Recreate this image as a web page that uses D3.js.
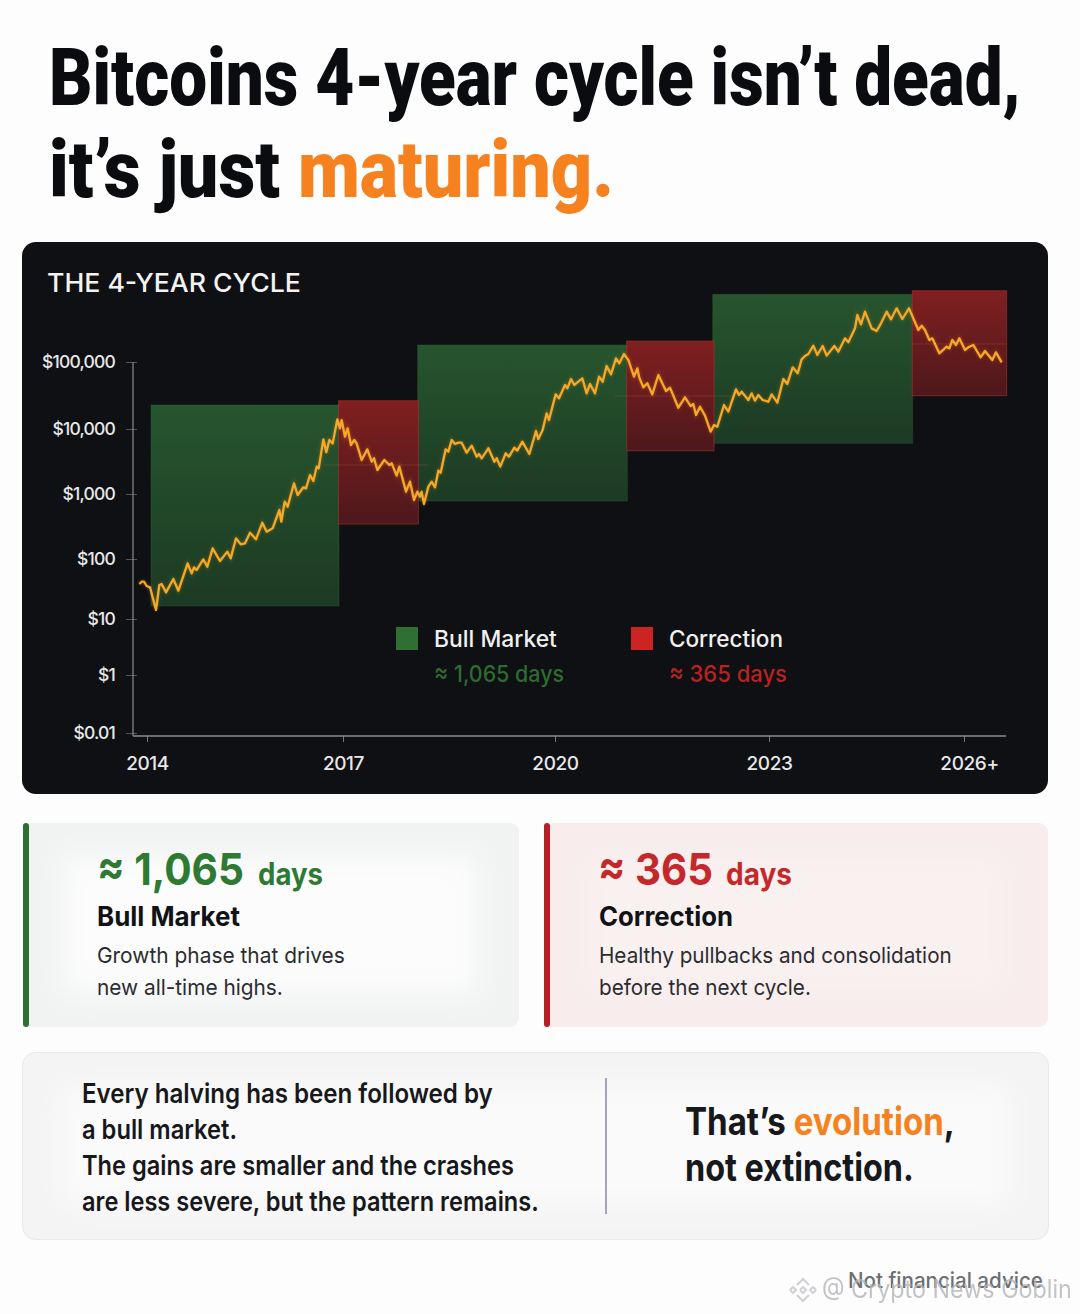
<!DOCTYPE html>
<html>
<head>
<meta charset="utf-8">
<script src="https://cdnjs.cloudflare.com/ajax/libs/d3/7.8.5/d3.min.js"></script>
<style>
html, body { margin: 0; padding: 0; background: #fdfdfd; }
svg { display: block; }
text { font-family: Inter, "Noto Sans", sans-serif; }
</style>
</head>
<body>
<div id="chart"></div>
<script>
// Values. Price is kept as log10(dollars).
var yearTicks = [2014, 2017, 2020, 2023, 2025.925];
var yearLabels = ["2014", "2017", "2020", "2023", "2026+"];
var logTicks = [5, 4, 3, 2, 1, 0, -2];
var logLabels = ["$100,000", "$10,000", "$1,000", "$100", "$10", "$1", "$0.01"];

var priceYears = [
  2013.883, 2013.918, 2013.954, 2013.995, 2014.046, 2014.097, 2014.138, 2014.189, 2014.224, 2014.291,
  2014.403, 2014.48, 2014.622, 2014.684, 2014.719, 2014.76, 2014.862, 2014.923, 2015.005, 2015.117,
  2015.23, 2015.281, 2015.362, 2015.434, 2015.5, 2015.577, 2015.668, 2015.765, 2015.832, 2015.923,
  2016.026, 2016.056, 2016.107, 2016.153, 2016.25, 2016.306, 2016.393, 2016.434, 2016.495, 2016.546,
  2016.597, 2016.628, 2016.699, 2016.745, 2016.791, 2016.842, 2016.913, 2016.954, 2016.98, 2017.028,
  2017.066, 2017.113, 2017.16, 2017.193, 2017.264, 2017.344, 2017.406, 2017.439, 2017.486, 2017.585,
  2017.656, 2017.689, 2017.759, 2017.797, 2017.892, 2017.948, 2018.005, 2018.052, 2018.09, 2018.113,
  2018.146, 2018.208, 2018.255, 2018.302, 2018.349, 2018.382, 2018.453, 2018.491, 2018.538, 2018.585,
  2018.632, 2018.679, 2018.75, 2018.821, 2018.892, 2018.925, 2018.962, 2019.057, 2019.142, 2019.175,
  2019.226, 2019.302, 2019.349, 2019.425, 2019.467, 2019.538, 2019.637, 2019.731, 2019.764, 2019.825,
  2019.882, 2019.915, 2020.009, 2020.056, 2020.14, 2020.173, 2020.224, 2020.271, 2020.327, 2020.383,
  2020.444, 2020.491, 2020.561, 2020.617, 2020.668, 2020.724, 2020.785, 2020.855, 2020.902, 2020.967,
  2021.028, 2021.107, 2021.154, 2021.182, 2021.238, 2021.294, 2021.364, 2021.449, 2021.556, 2021.612,
  2021.729, 2021.822, 2021.902, 2021.939, 2021.977, 2022.033, 2022.103, 2022.182, 2022.229, 2022.276,
  2022.369, 2022.43, 2022.537, 2022.579, 2022.617, 2022.71, 2022.757, 2022.804, 2022.85, 2022.911,
  2022.991, 2023.04, 2023.125, 2023.215, 2023.275, 2023.355, 2023.43, 2023.49, 2023.54, 2023.59,
  2023.665, 2023.725, 2023.805, 2023.865, 2023.98, 2024.04, 2024.14, 2024.19, 2024.29, 2024.325,
  2024.38, 2024.44, 2024.54, 2024.615, 2024.68, 2024.765, 2024.83, 2024.915, 2025.0, 2025.1,
  2025.24, 2025.29, 2025.34, 2025.405, 2025.45, 2025.555, 2025.665, 2025.705, 2025.75, 2025.805,
  2025.855, 2025.94, 2025.99, 2026.065, 2026.175, 2026.24, 2026.35, 2026.405, 2026.49
];
var priceLogs = [
  1.583, 1.622, 1.622, 1.55, 1.528, 1.317, 1.15, 1.567, 1.583, 1.444,
  1.667, 1.472, 1.928, 1.761, 1.861, 1.817, 1.994, 1.872, 2.164, 1.967,
  2.113, 2.01, 2.318, 2.226, 2.241, 2.405, 2.303, 2.559, 2.421, 2.472,
  2.754, 2.574, 2.882, 2.805, 3.164, 2.985, 3.103, 3.087, 3.292, 3.2,
  3.421, 3.395, 3.841, 3.641, 3.831, 3.779, 4.144, 4.01, 4.134, 3.882,
  4.01, 3.754, 3.831, 3.779, 3.523, 3.687, 3.497, 3.549, 3.369, 3.523,
  3.446, 3.472, 3.282, 3.421, 3.036, 3.19, 2.908, 3.036, 2.959, 3.036,
  2.846, 3.113, 3.19, 3.103, 3.359, 3.328, 3.687, 3.651, 3.831, 3.769,
  3.79, 3.79, 3.636, 3.744, 3.574, 3.615, 3.549, 3.703, 3.497, 3.549,
  3.421, 3.626, 3.574, 3.713, 3.667, 3.805, 3.615, 3.969, 3.846, 3.985,
  4.234, 4.134, 4.517, 4.458, 4.657, 4.607, 4.746, 4.657, 4.706, 4.756,
  4.532, 4.672, 4.532, 4.781, 4.706, 4.94, 4.816, 5.055, 4.98, 5.119,
  5.03, 4.781, 4.905, 4.766, 4.622, 4.682, 4.517, 4.806, 4.567, 4.617,
  4.318, 4.473, 4.343, 4.373, 4.209, 4.333, 4.199, 3.959, 4.06, 4.035,
  4.358, 4.259, 4.592, 4.507, 4.557, 4.433, 4.532, 4.423, 4.507, 4.433,
  4.408, 4.517, 4.393, 4.746, 4.672, 4.92, 4.831, 5.04, 5.09, 5.119,
  5.244, 5.104, 5.239, 5.095, 5.239, 5.154, 5.353, 5.294, 5.502, 5.701,
  5.562, 5.751, 5.502, 5.463, 5.577, 5.751, 5.637, 5.801, 5.642, 5.801,
  5.478, 5.542, 5.478, 5.328, 5.353, 5.129, 5.229, 5.204, 5.328, 5.254,
  5.353, 5.179, 5.219, 5.254, 5.07, 5.164, 5.03, 5.144, 4.995
];

// Market phases
var phaseKinds = ["bull", "bull", "bull", "correction", "correction", "correction"];
var phaseStarts = [2014.061, 2018.057, 2022.211, 2016.931, 2021.005, 2025.15];
var phaseEnds = [2016.939, 2021.014, 2025.155, 2018.066, 2022.229, 2026.565];
var phaseLows = [1.217, 2.892, 3.78, 2.538, 3.666, 4.497];
var phaseHighs = [4.358, 5.254, 6.01, 4.422, 5.313, 6.064];

// Faint level marks crossing the correction boxes
var levelStarts = [2016.7, 2020.84, 2025.15];
var levelEnds = [2018.2, 2022.48, 2026.56];
var levelLogs = [3.446, 4.493, 5.269];

var svg = d3.select("#chart").append("svg")
    .attr("width", 1080)
    .attr("height", 1314);

var defs = svg.append("defs");

function gradient(id, top, bottom) {
    var g = defs.append("linearGradient").attr("id", id)
        .attr("x1", 0).attr("y1", 0).attr("x2", 0).attr("y2", 1);
    g.append("stop").attr("offset", "0%").attr("stop-color", top);
    g.append("stop").attr("offset", "100%").attr("stop-color", bottom);
}
gradient("bullFill", "#27552e", "#1c3a24");
gradient("correctionFill", "#801f20", "#4d181c");

defs.append("filter").attr("id", "soft")
    .attr("x", "-20%").attr("y", "-20%").attr("width", "140%").attr("height", "140%")
    .append("feGaussianBlur").attr("stdDeviation", 14);
defs.append("filter").attr("id", "glow")
    .attr("x", "-5%").attr("y", "-5%").attr("width", "110%").attr("height", "110%")
    .append("feGaussianBlur").attr("stdDeviation", 1.5);

// Writes a line of text and squeezes it to the width it has in the picture.
// parts: [[string, colour], ...]
function fit(parent, x, y, width, size, weight, parts, family) {
    var t = parent.append("text")
        .attr("font-size", size)
        .attr("font-weight", weight);
    if (family) t.style("font-family", family);
    parts.forEach(function(p) {
        t.append("tspan").attr("fill", p[1]).text(p[0]);
    });
    var w = t.node().getComputedTextLength();
    t.attr("transform", "translate(" + x + "," + y + ") scale(" + (width / w) + ",1)");
    return t;
}

// Title
var ink = "#0b0c10", orange = "#f5821f";
fit(svg, 49, 105, 972, 80, 900, [["Bitcoins 4-year cycle isn\u2019t dead,", ink]], "Roboto");
fit(svg, 49, 197, 565, 80, 900, [["it\u2019s just ", ink], ["maturing.", orange]], "Roboto");

// Dark panel
svg.append("rect")
    .attr("x", 22).attr("y", 242).attr("width", 1026).attr("height", 552)
    .attr("rx", 14).attr("fill", "#0f1013");

fit(svg, 47, 292, 254, 26, 500, [["THE 4-YEAR CYCLE", "#f2f2f2"]]);

// Scales. Neither axis of the picture is evenly spaced, so both are piecewise.
var x = d3.scaleLinear()
    .domain([2014, 2017, 2020, 2023, 2026])
    .range([147, 343, 555, 769, 969]);
var y = d3.scaleLinear()
    .domain([-2, 0, 1, 2, 3, 4, 5, 6])
    .range([733, 675, 619, 559, 494, 429, 362, 295]);

// Phase boxes
var phases = phaseKinds.map(function(kind, i) {
    return { kind: kind, start: phaseStarts[i], end: phaseEnds[i], low: phaseLows[i], high: phaseHighs[i] };
});
svg.append("g").selectAll("rect")
    .data(phases)
    .enter().append("rect")
    .attr("x", function(d) { return x(d.start) })
    .attr("y", function(d) { return y(d.high) })
    .attr("width", function(d) { return x(d.end) - x(d.start) })
    .attr("height", function(d) { return y(d.low) - y(d.high) })
    .attr("fill", function(d) { return d.kind == "bull" ? "url(#bullFill)" : "url(#correctionFill)" })
    .attr("stroke", function(d) { return d.kind == "bull" ? "#2f6a38" : "#a8322c" })
    .attr("stroke-opacity", function(d) { return d.kind == "bull" ? 0.35 : 0.6 });

svg.append("g").selectAll("line")
    .data(levelLogs)
    .enter().append("line")
    .attr("x1", function(d, i) { return x(levelStarts[i]) })
    .attr("x2", function(d, i) { return x(levelEnds[i]) })
    .attr("y1", function(d) { return y(d) })
    .attr("y2", function(d) { return y(d) })
    .attr("stroke", "#c8683a")
    .attr("stroke-opacity", 0.25);

// Axes
var axisColor = "#8b8c90", labelColor = "#e8e8e8";
var yAxis = svg.append("g")
    .attr("transform", "translate(133,0)")
    .call(d3.axisLeft(y)
        .tickValues(logTicks)
        .tickFormat(function(d, i) { return logLabels[i] })
        .tickSize(0)
        .tickPadding(18));
yAxis.select(".domain").remove();
yAxis.selectAll(".tick line")
    .attr("x1", -7).attr("x2", 4)
    .attr("stroke", "#55565a");
yAxis.selectAll("text")
    .attr("fill", labelColor)
    .attr("font-size", 17.5)
    .attr("font-weight", 500)
    .attr("font-family", "Inter")
    .attr("letter-spacing", -0.8);

var xAxis = svg.append("g")
    .attr("transform", "translate(0,736)")
    .call(d3.axisBottom(x)
        .tickValues(yearTicks)
        .tickFormat(function(d, i) { return yearLabels[i] })
        .tickSize(6)
        .tickPadding(15));
xAxis.select(".domain").remove();
xAxis.selectAll(".tick line").attr("stroke", "#77787c");
xAxis.selectAll("text")
    .attr("fill", labelColor)
    .attr("font-size", 19)
    .attr("font-weight", 500)
    .attr("font-family", "Inter")
    .attr("letter-spacing", -0.4)
    .attr("dx", function(d, i) { return i == 4 ? 5 : 0 });

svg.append("line")
    .attr("x1", 133).attr("x2", 133)
    .attr("y1", y(5)).attr("y2", 736)
    .attr("stroke", axisColor).attr("stroke-width", 1.2);
svg.append("line")
    .attr("x1", 133).attr("x2", 1006)
    .attr("y1", 736).attr("y2", 736)
    .attr("stroke", axisColor).attr("stroke-width", 1.6);

// Price line
var points = priceYears.map(function(year, i) { return { year: year, log: priceLogs[i] } });
var line = d3.line()
    .x(function(d) { return x(d.year) })
    .y(function(d) { return y(d.log) });
svg.append("path")
    .attr("d", line(points))
    .attr("fill", "none")
    .attr("stroke", "#f59a1c")
    .attr("stroke-width", 3)
    .attr("stroke-opacity", 0.3)
    .attr("filter", "url(#glow)");
svg.append("path")
    .attr("d", line(points))
    .attr("fill", "none")
    .attr("stroke", "#f6a828")
    .attr("stroke-width", 2.3)
    .attr("stroke-linejoin", "round");

// Legend
var green = "#2e7a32", red = "#c62a27";
svg.append("rect").attr("x", 396).attr("y", 627).attr("width", 22).attr("height", 23).attr("fill", "#2e7032");
svg.append("rect").attr("x", 631).attr("y", 627).attr("width", 22).attr("height", 23).attr("fill", "#cc2422");
fit(svg, 434, 647, 123, 23, 500, [["Bull Market", "#f0f0f0"]]);
fit(svg, 669, 647, 114, 23, 500, [["Correction", "#f0f0f0"]]);
fit(svg, 434, 682, 130, 23, 500, [["\u2248 1,065 days", "#2d6c30"]]);
fit(svg, 669, 682, 118, 23, 500, [["\u2248 365 days", "#b92220"]]);

// Cards
function card(x0, width, base, centre, bar) {
    svg.append("rect")
        .attr("x", x0).attr("y", 823).attr("width", width).attr("height", 204)
        .attr("rx", 9).attr("fill", base);
    svg.append("rect")
        .attr("x", x0 + 40).attr("y", 855).attr("width", width - 80).attr("height", 140)
        .attr("fill", centre).attr("filter", "url(#soft)");
    svg.append("rect")
        .attr("x", x0).attr("y", 823).attr("width", 6).attr("height", 204)
        .attr("rx", 3).attr("fill", bar);
}
card(23, 496, "#f0f3f1", "#fbfcfb", "#2f6f34");
card(544, 504, "#f8eced", "#f9f0f0", "#b71f26");

var body = "#2b2c30";
fit(svg, 97, 885, 147, 44, 700, [["\u2248 1,065", green]]);
fit(svg, 258, 885, 65, 31, 700, [["days", green]]);
fit(svg, 97, 926, 143, 27, 700, [["Bull Market", "#111216"]]);
fit(svg, 97, 963, 248, 22, 400, [["Growth phase that drives", body]]);
fit(svg, 97, 995, 186, 22, 400, [["new all-time highs.", body]]);

fit(svg, 598, 885, 115, 44, 700, [["\u2248 365", "#c4282a"]]);
fit(svg, 726, 885, 66, 31, 700, [["days", "#c4282a"]]);
fit(svg, 599, 926, 134, 27, 700, [["Correction", "#111216"]]);
fit(svg, 599, 963, 353, 22, 400, [["Healthy pullbacks and consolidation", body]]);
fit(svg, 599, 995, 212, 22, 400, [["before the next cycle.", body]]);

// Bottom card
svg.append("rect")
    .attr("x", 22.5).attr("y", 1052.5).attr("width", 1026).attr("height", 187)
    .attr("rx", 13).attr("fill", "#f4f4f4").attr("stroke", "#e9e9e9");
svg.append("rect")
    .attr("x", 60).attr("y", 1085).attr("width", 950).attr("height", 122)
    .attr("fill", "#fafafa").attr("filter", "url(#soft)");
svg.append("line")
    .attr("x1", 606).attr("x2", 606).attr("y1", 1078).attr("y2", 1214)
    .attr("stroke", "#6a6f8c").attr("stroke-width", 1.2);

var dark = "#17181c";
fit(svg, 82, 1103, 411, 27, 600, [["Every halving has been followed by", dark]]);
fit(svg, 82, 1139, 155, 27, 600, [["a bull market.", dark]]);
fit(svg, 82, 1175, 432, 27, 600, [["The gains are smaller and the crashes", dark]]);
fit(svg, 82, 1211, 457, 27, 600, [["are less severe, but the pattern remains.", dark]]);
fit(svg, 685, 1135, 270, 38, 700, [["That\u2019s ", dark], ["evolution", orange], [",", dark]]);
fit(svg, 685, 1181, 229, 38, 700, [["not extinction.", dark]]);

// Footer and the watermark lying over it
fit(svg, 848, 1288, 195, 21, 500, [["Not financial advice", "#6d6e72"]]);
fit(svg, 822, 1298, 250, 25, 400, [["@ Crypto News Goblin", "#b4b5b9"]]).attr("opacity", 0.8);
var mark = svg.append("g").attr("transform", "translate(803,1290)")
    .attr("fill", "none").attr("stroke", "#cfd0d3").attr("stroke-width", 2);
mark.append("path").attr("d", d3.line()([[-6, -5], [0, -11], [6, -5]]));
mark.append("path").attr("d", d3.line()([[-6, 5], [0, 11], [6, 5]]));
mark.append("path").attr("d", d3.line()([[-13, 0], [-10, -3], [-7, 0], [-10, 3], [-13, 0]]));
mark.append("path").attr("d", d3.line()([[13, 0], [10, -3], [7, 0], [10, 3], [13, 0]]));
mark.append("path").attr("d", d3.line()([[-3, 0], [0, -3], [3, 0], [0, 3], [-3, 0]]));
</script>
</body>
</html>
